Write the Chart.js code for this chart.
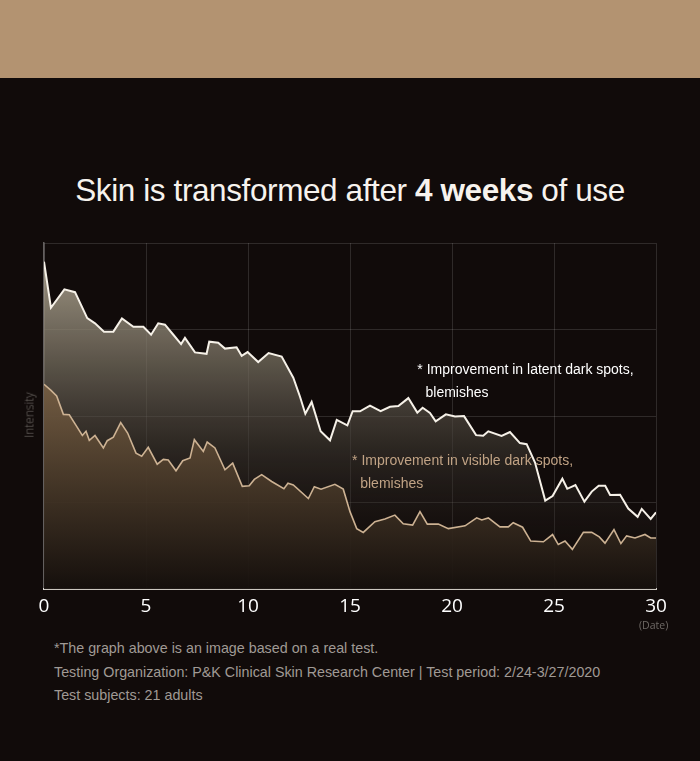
<!DOCTYPE html>
<html>
<head>
<meta charset="utf-8">
<script src="https://cdn.jsdelivr.net/npm/chart.js@4.4.1/dist/chart.umd.min.js"></script>
<style>
  body { margin: 0; background: #110b0a; width: 700px; height: 761px; overflow: hidden; position: relative; font-family: "Liberation Sans", Arial, sans-serif; }
  .band { position: absolute; left: 0; top: 0; width: 700px; height: 78px; background: #b39371; }
  h1 { position: absolute; left: 0; width: 700px; top: 172px; margin: 0; text-align: center; font-weight: normal; font-size: 31.5px; color: #f7f3ee; letter-spacing: -0.4px; }
  h1 b { font-weight: bold; }
  .wrap { position: absolute; left: 0; top: 230px; width: 700px; height: 400px; }
  .ylab { position: absolute; left: 29px; top: 415px; transform: translate(-50%, -50%) rotate(-90deg); color: #6f6a66; font-family: "Open Sans", sans-serif; font-weight: 300; font-size: 12px; }
  .date { position: absolute; left: 639px; top: 618px; color: #6f6a66; font-family: "Open Sans", sans-serif; font-size: 10.5px; }
  .notes { position: absolute; left: 54px; top: 637px; color: #a09a95; font-size: 14.3px; line-height: 23.5px; }
</style>
</head>
<body>
<div class="band"></div>
<h1>Skin is transformed after <b>4 weeks</b> of use</h1>
<div class="wrap"><canvas id="skinChart"></canvas></div>
<div class="ylab">Intensity</div>
<div class="date">(Date)</div>
<div class="notes">
  *The graph above is an image based on a real test.<br>
  Testing Organization: P&amp;K Clinical Skin Research Center | Test period: 2/24-3/27/2020<br>
  Test subjects: 21 adults
</div>
<script>
// Latent dark spots (white line)
const latentDays = [0, 0.34, 1.0, 1.52, 2.12, 2.5, 2.94, 3.4, 3.82, 4.38, 4.87, 5.25, 5.6, 5.93, 6.34, 6.72, 6.91, 7.4, 7.97, 8.1,
  8.54, 8.87, 9.44, 9.69, 9.98, 10.5, 11.01, 11.65, 12.22, 12.55, 12.81, 13.12, 13.56, 14.02, 14.35, 14.87, 15.13, 15.49, 15.98, 16.5,
  16.96, 17.37, 17.86, 18.3, 18.56, 18.92, 19.2, 19.7, 20.15, 20.59, 21.18, 21.53, 21.78, 22.43, 22.84, 23.33, 23.66, 24.07, 24.57, 24.93,
  25.41, 25.65, 26.05, 26.49, 26.85, 27.19, 27.51, 27.75, 28.24, 28.64, 29.1, 29.3, 29.74, 30];
const latentValues = [94.6, 81.3, 86.6, 85.8, 78.3, 76.8, 74.4, 74.4, 78.2, 75.8, 75.8, 73.5, 76.8, 76.4, 73.5, 70.8, 72.6, 68.4, 68.0, 71.5,
  71.2, 69.5, 69.9, 67.4, 68.5, 65.6, 68.2, 67.2, 61.1, 55.6, 50.7, 54.1, 45.6, 43.0, 48.9, 47.3, 51.4, 51.4, 53.0, 51.4,
  52.7, 52.9, 55.2, 51.0, 52.4, 50.9, 48.5, 50.5, 49.9, 50.0, 44.5, 44.3, 45.6, 44.3, 45.4, 42.2, 41.9, 36.6, 25.6, 26.9,
  31.9, 29.0, 30.1, 25.3, 28.2, 29.9, 29.9, 27.2, 27.3, 23.3, 20.9, 23.2, 20.3, 22.2];

// Visible dark spots (tan line)
const visibleDays = [0, 0.33, 0.62, 0.95, 1.24, 1.57, 1.88, 2.06, 2.22, 2.5, 2.91, 3.1, 3.4, 3.76, 4.1, 4.51, 4.79, 5.11, 5.55, 5.85,
  6.09, 6.47, 6.8, 7.16, 7.37, 7.81, 8.0, 8.38, 8.87, 9.25, 9.72, 10.06, 10.31, 10.67, 11.16, 11.76, 11.96, 12.22, 12.96, 13.25,
  13.58, 14.26, 14.67, 15.0, 15.33, 15.65, 16.22, 16.71, 17.2, 17.61, 18.07, 18.43, 18.79, 19.33, 19.82, 20.64, 21.21, 21.46, 21.78, 22.35,
  22.76, 23.0, 23.46, 23.86, 24.48, 24.93, 25.21, 25.54, 25.9, 26.44, 26.85, 27.22, 27.5, 27.94, 28.28, 28.56, 28.97, 29.46, 29.74, 30];
const visibleValues = [59.2, 57.5, 55.8, 50.5, 50.4, 47.3, 44.4, 45.6, 43.0, 44.4, 40.8, 42.9, 43.9, 48.1, 45.1, 39.3, 38.4, 41.0, 36.1, 37.5,
  37.3, 34.2, 37.1, 37.9, 43.2, 39.8, 42.5, 40.8, 34.5, 36.4, 29.7, 29.9, 31.7, 33.1, 31.1, 29.0, 30.6, 30.1, 26.2, 29.6,
  28.9, 30.3, 28.9, 22.4, 17.5, 16.4, 19.5, 20.3, 21.4, 18.9, 18.5, 22.4, 18.8, 18.8, 17.5, 18.3, 20.6, 20.0, 20.6, 18.0,
  18.0, 19.2, 17.9, 13.9, 13.7, 15.8, 12.9, 13.9, 11.5, 16.4, 16.4, 15.1, 13.3, 17.2, 13.2, 15.4, 14.8, 15.8, 14.8, 14.8];

const xTicks = [0, 5, 10, 15, 20, 25, 30];

function points(days, values) {
  return days.map((d, i) => ({ x: d, y: values[i] }));
}

function latentFill(context) {
  const { ctx, chartArea } = context.chart;
  if (!chartArea) return 'rgba(0,0,0,0)';
  const g = ctx.createLinearGradient(0, chartArea.top, 0, chartArea.bottom);
  g.addColorStop(0, 'rgba(190,180,160,0.9)');
  g.addColorStop(0.3, 'rgba(130,122,106,0.75)');
  g.addColorStop(0.6, 'rgba(60,55,48,0.6)');
  g.addColorStop(1, 'rgba(17,11,10,0)');
  return g;
}

function visibleFill(context) {
  const { ctx, chartArea } = context.chart;
  if (!chartArea) return 'rgba(0,0,0,0)';
  const g = ctx.createLinearGradient(0, chartArea.top, 0, chartArea.bottom);
  g.addColorStop(0.35, 'rgba(125,100,72,0.95)');
  g.addColorStop(0.65, 'rgba(80,63,45,0.9)');
  g.addColorStop(1, 'rgba(22,16,13,0.95)');
  return g;
}

// Notes inside the plot: over the white fill, under the white line
const labelsPlugin = {
  id: 'curveLabels',
  beforeDatasetDraw(chart, args) {
    if (args.index !== 0) return;
    const { ctx, scales: { x, y } } = chart;
    ctx.save();
    ctx.textBaseline = 'middle';
    ctx.font = '14px "Liberation Sans", Arial, sans-serif';
    ctx.fillStyle = '#ffffff';
    ctx.fillText('* Improvement in latent dark spots,', x.getPixelForValue(18.3), y.getPixelForValue(63.2));
    ctx.fillText('blemishes', x.getPixelForValue(18.7), y.getPixelForValue(56.5));
    ctx.fillStyle = '#c1a385';
    ctx.fillText('* Improvement in visible dark spots,', x.getPixelForValue(15.1), y.getPixelForValue(37.0));
    ctx.fillText('blemishes', x.getPixelForValue(15.5), y.getPixelForValue(30.3));
    ctx.restore();
  }
};

const config = {
  type: 'line',
  data: {
    datasets: [{
      label: 'Latent dark spots',
      data: points(latentDays, latentValues),
      borderColor: '#f6f1e8',
      borderWidth: 2,
      backgroundColor: latentFill,
      fill: 'origin',
      pointRadius: 0,
      tension: 0,
      order: 2
    }, {
      label: 'Visible dark spots',
      data: points(visibleDays, visibleValues),
      borderColor: '#cdb293',
      borderWidth: 1.6,
      backgroundColor: visibleFill,
      fill: 'origin',
      pointRadius: 0,
      tension: 0,
      order: 1
    }]
  },
  options: {
    responsive: true,
    maintainAspectRatio: false,
    animation: false,
    layout: { padding: { left: 44, right: 44, top: 13, bottom: 6 } },
    plugins: {
      legend: { display: false },
      tooltip: { enabled: false }
    },
    scales: {
      x: {
        type: 'linear',
        min: 0,
        max: 30,
        afterBuildTicks: axis => { axis.ticks = xTicks.map(v => ({ value: v })); },
        ticks: { color: '#ffffff', font: { family: '"Open Sans", sans-serif', size: 19 }, padding: 6, maxRotation: 0 },
        grid: { color: 'rgba(255,255,255,0.13)', drawTicks: false },
        border: { color: 'rgba(235,230,222,0.85)', width: 2 }
      },
      y: {
        min: 0,
        max: 100,
        ticks: { display: false, stepSize: 25 },
        grid: { color: 'rgba(255,255,255,0.13)', drawTicks: false },
        border: { color: 'rgba(255,255,255,0.35)', width: 1.5 }
      }
    }
  },
  plugins: [labelsPlugin]
};

const ctx = document.getElementById('skinChart').getContext('2d');
const skinChart = new Chart(ctx, config);
</script>
</body>
</html>
